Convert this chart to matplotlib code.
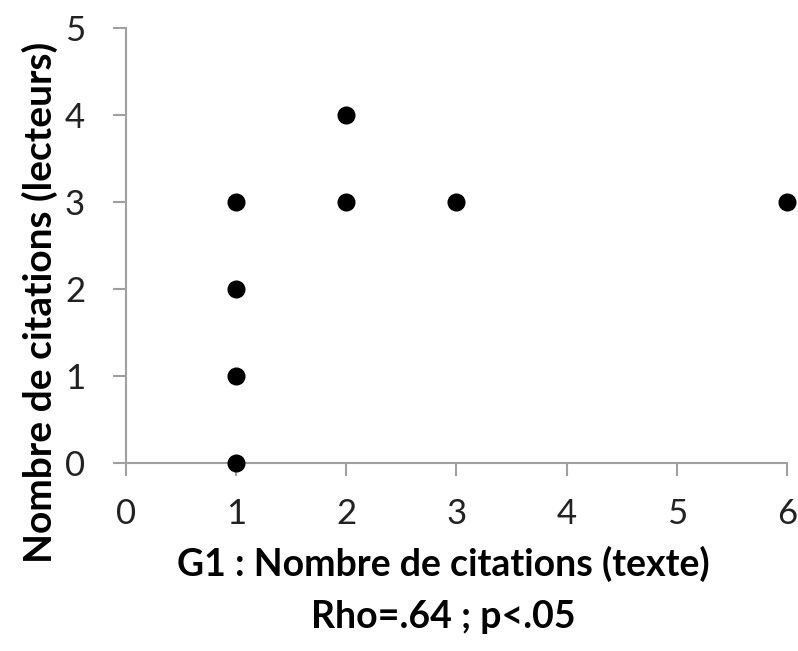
import matplotlib
matplotlib.use("Agg")
import matplotlib.pyplot as plt

x_text = [1, 1, 1, 1, 2, 2, 3, 6]
y_readers = [0, 1, 2, 3, 3, 4, 3, 3]
x_ticks = [0, 1, 2, 3, 4, 5, 6]
y_ticks = [0, 1, 2, 3, 4, 5]

plt.rcParams['font.family'] = ['Lato', 'DejaVu Sans']

fig = plt.figure(figsize=(7.98, 6.51), dpi=100)
ax = fig.add_axes([0.158, 0.289, 0.828, 0.668])
ax.plot(x_text, y_readers, 'o', color='black', ms=12, clip_on=False, zorder=3)
ax.set_xlim(0, 6)
ax.set_ylim(0, 5)
ax.set_xticks(x_ticks)
ax.set_yticks(y_ticks)
for s in ['top', 'right']:
    ax.spines[s].set_visible(False)
for s in ['left', 'bottom']:
    ax.spines[s].set_color('#a0a0a0')
    ax.spines[s].set_linewidth(1.5)
ax.tick_params(axis='both', direction='out', length=9.5, width=1.5, color='#a0a0a0',
               labelsize=25, labelcolor='#222222')
ax.tick_params(axis='y', pad=20)
ax.tick_params(axis='x', pad=16)
ax.set_xlabel("G1 : Nombre de citations (texte)\nRho=.64 ; p<.05", fontsize=27,
              fontweight='bold', linespacing=1.65)
ax.xaxis.set_label_coords(0.48, -0.19, transform=ax.transAxes)
ax.xaxis.label.set_va('top')
ax.set_ylabel("Nombre de citations (lecteurs)", fontsize=28, fontweight='bold')
ax.yaxis.set_label_coords(-0.13, 0.37)
ax.yaxis.label.set_va('center')
fig.savefig("out.png", dpi=100)
